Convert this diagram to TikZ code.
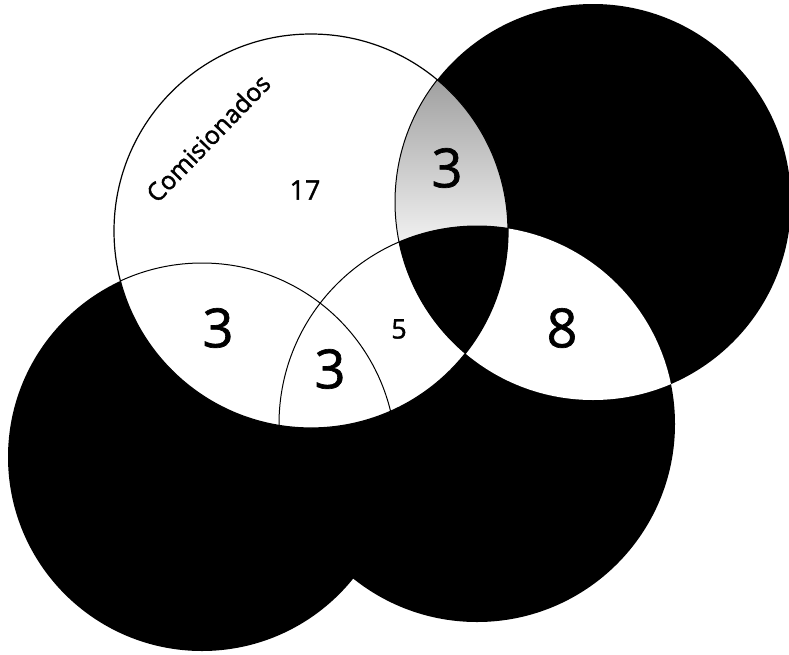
\documentclass[tikz,border=0pt]{standalone}
\usepackage{fontspec}
\setmainfont{Open Sans}
\newfontfamily\labelfont[FakeBold=1.6]{Open Sans}
\newfontfamily\numfont[FakeBold=1.2]{Open Sans}
\newcommand\circTL{(311,231) circle[radius=197pt]}
\newcommand\circTR{(593,202) circle[radius=198pt]}
\newcommand\circBL{(202,457) circle[radius=194pt]}
\newcommand\circBR{(477,424) circle[radius=198pt]}
\tikzset{
  bignum/.style={inner sep=0pt, font=\numfont\fontsize{54}{54}\selectfont},
  smallnum/.style={inner sep=0pt, font=\numfont\fontsize{27}{27}\selectfont},
  setlabel/.style={inner sep=0pt, font=\labelfont\fontsize{25}{25}\selectfont},
  outline/.style={line width=1.2pt, black},
  inner/.style={line width=1pt, black}
}
\begin{document}
\begin{tikzpicture}[x=1pt,y=-1pt]
\useasboundingbox (0,0) rectangle (789,654);
\clip (0,0) rectangle (789,654);
% black circles
\fill[black] \circTR;
\fill[black] \circBL;
\fill[black] \circBR;
% TR and BR overlap (outside TL) is white
\begin{scope}
  \clip \circTR;
  \fill[white] \circBR;
\end{scope}
% main white circle
\fill[white] \circTL;
% grey overlap TL with TR
\begin{scope}
  \clip \circTL;
  \clip \circTR;
  \shade[top color=black!45, bottom color=black!6] (380,40) rectangle (520,240);
\end{scope}
% TL, TR and BR together: black
\begin{scope}
  \clip \circTL;
  \clip \circTR;
  \fill[black] \circBR;
\end{scope}
% lines inside the white circle
\begin{scope}
  \clip \circTL;
  \draw[inner] \circBL;
  \draw[inner] \circBR;
  \draw[inner] \circTR;
\end{scope}
\draw[outline] \circTL;
% texts
\node[setlabel, rotate=46] (lab) at (208,138) {Comisionados};
\node[smallnum] (n17) at (305,190) {17};
\node[bignum] (n3a) at (447,168) {3};
\node[bignum] (n3b) at (218,328) {3};
\node[bignum] (n3c) at (330,369) {3};
\node[smallnum] (n5) at (399,329) {5};
\node[bignum] (n8) at (562,328) {8};
\end{tikzpicture}
\end{document}
